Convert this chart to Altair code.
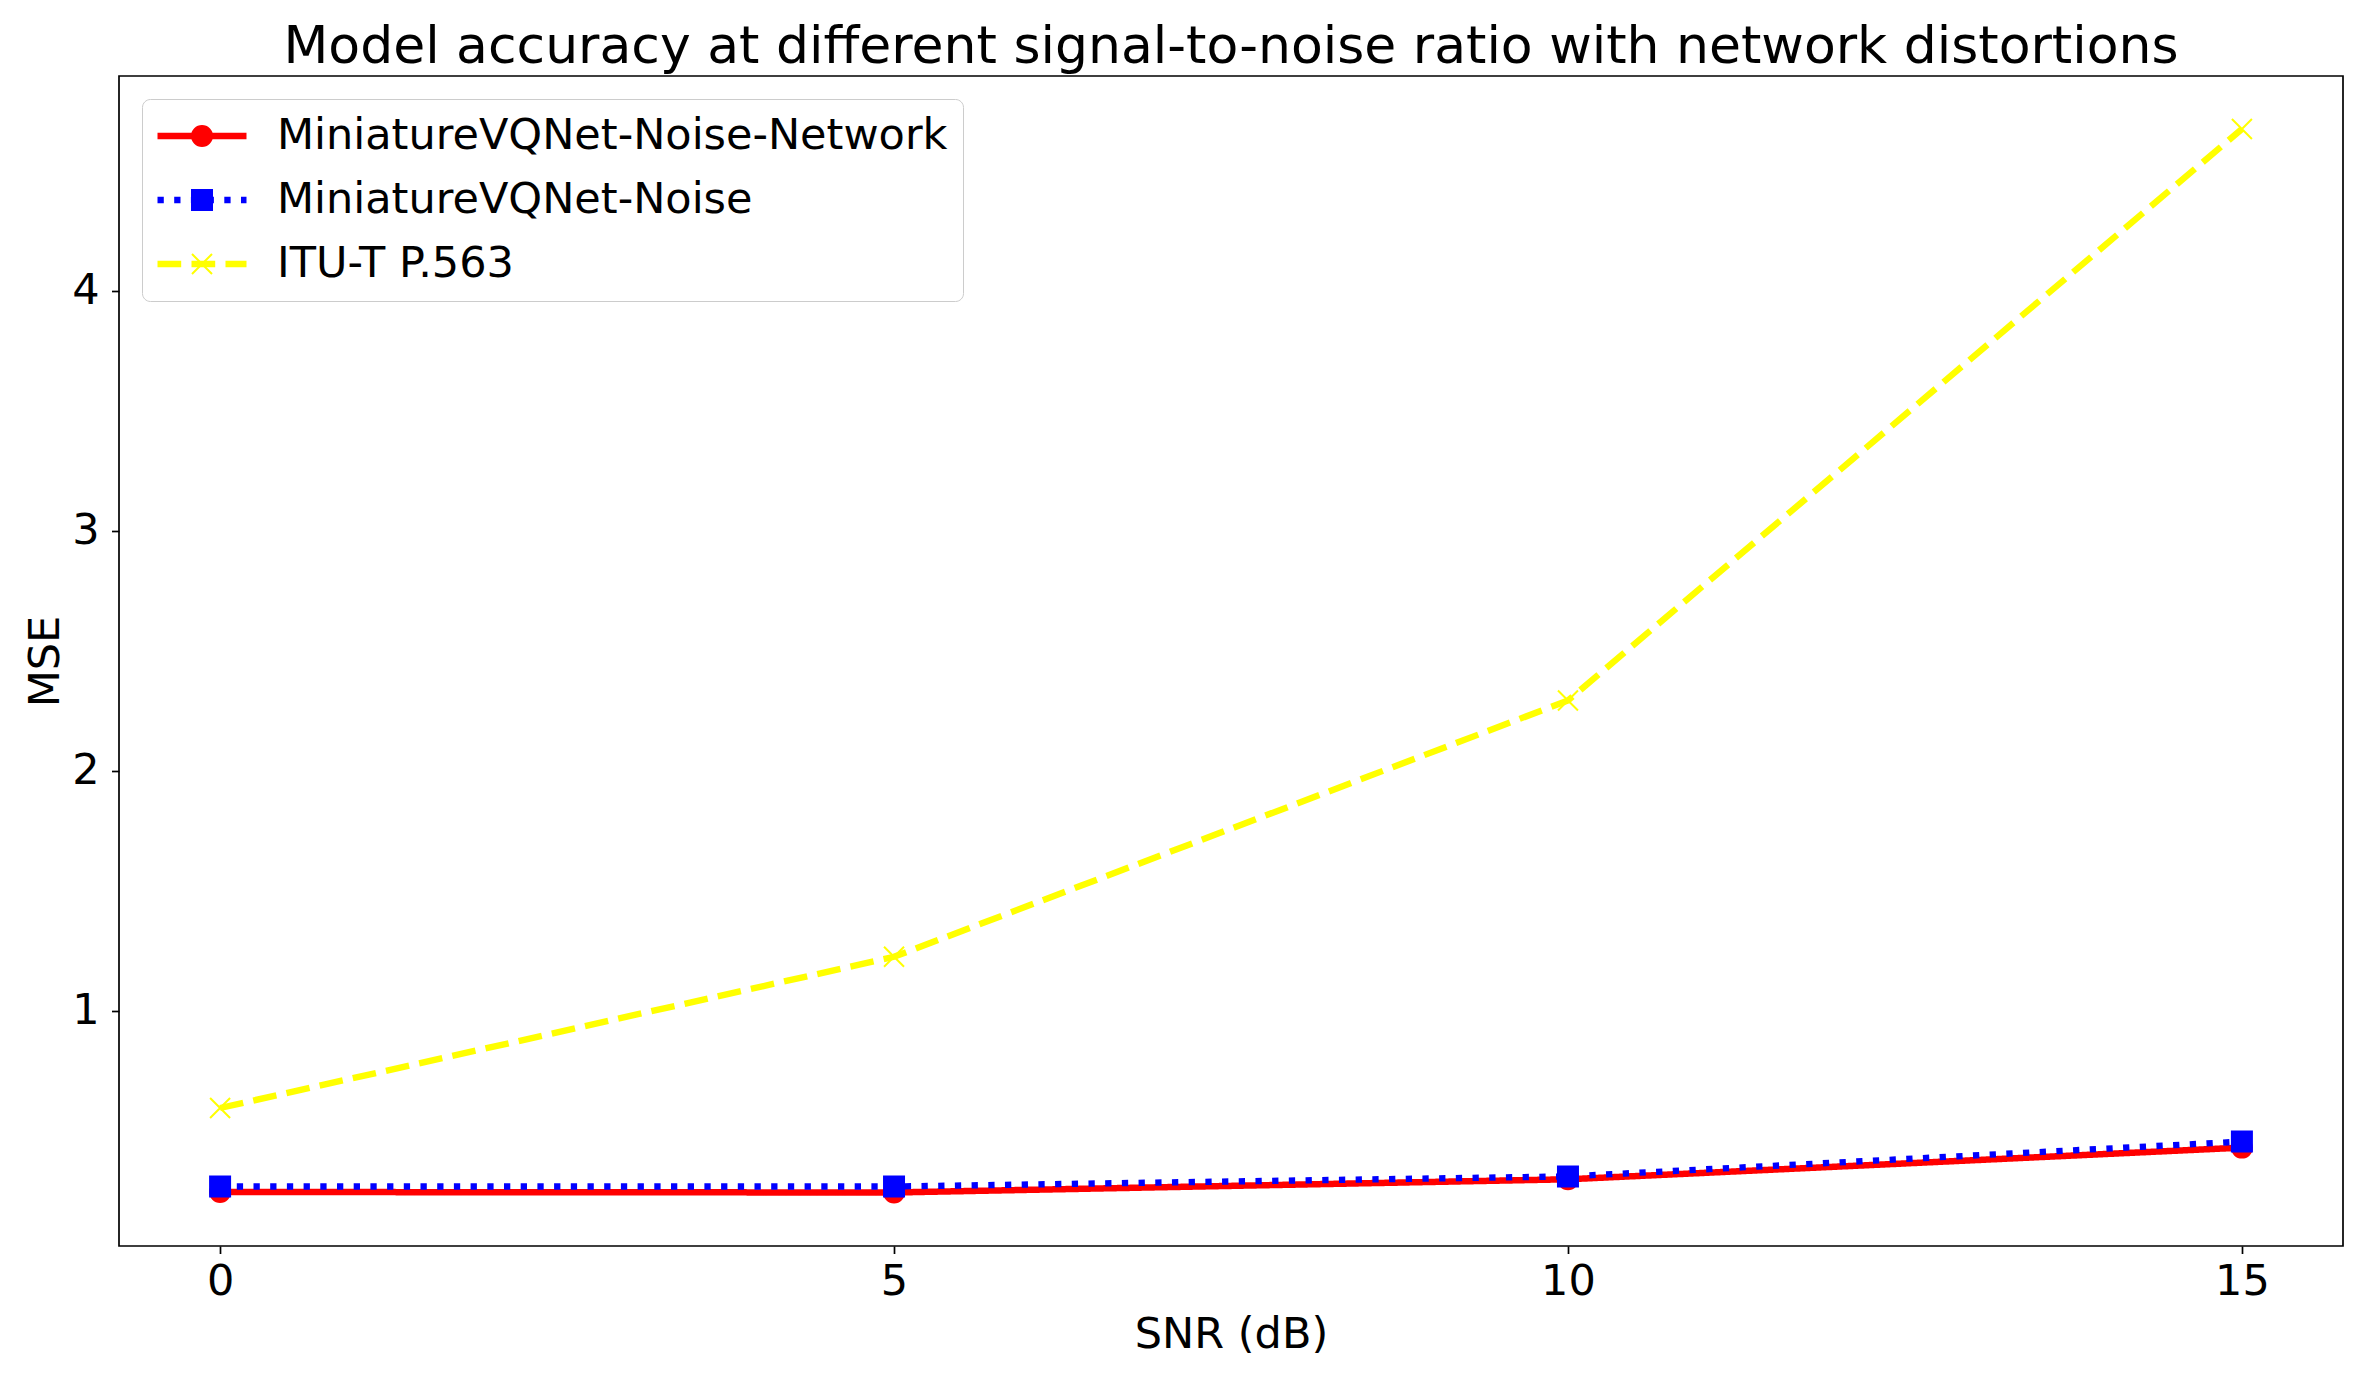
import altair as alt
import pandas as pd

# ---- data ----
snr = [0, 5, 10, 15]
series_names = ["MiniatureVQNet-Noise-Network", "MiniatureVQNet-Noise", "ITU-T P.563"]
mse_noise_network = [0.245, 0.243, 0.298, 0.430]
mse_noise = [0.268, 0.268, 0.310, 0.455]
mse_p563 = [0.595, 1.225, 2.293, 4.674]

x_ticks = [0, 5, 10, 15]
y_ticks = [1, 2, 3, 4]

# ---- styles ----
colors = ["#ff0000", "#0000ff", "#ffff00"]
line_widths = [6.5, 6.3, 6.4]
dashes = [[1, 0], [6.3, 10.4], [23.7, 10.3]]
X_PATH = "M-1,-1L1,1M-1,1L1,-1"
shapes = ["circle", "square", X_PATH]
FONT = "DejaVu Sans"

pt_names = ["pt " + n for n in series_names]
rows = []
for name, pname, vals in zip(series_names, pt_names, [mse_noise_network, mse_noise, mse_p563]):
    for xv, yv in zip(snr, vals):
        rows.append({"snr": xv, "mse": yv, "series": name, "series_pt": pname})
df = pd.DataFrame(rows)

x_enc = alt.X(
    "snr:Q",
    scale=alt.Scale(domain=[-0.75, 15.75], nice=False, zero=False),
    axis=alt.Axis(
        values=x_ticks, title="SNR (dB)", grid=False, domain=False,
        labelFont=FONT, labelFontSize=43, labelColor="black",
        labelBaseline="alphabetic", labelPadding=40.5, labelFlush=False, labelOverlap=False,
        tickSize=7.5, tickColor="black", tickWidth=1.7,
        titleFont=FONT, titleFontSize=43, titleFontWeight="normal", titleColor="black",
        titleBaseline="alphabetic", titleAlign="center", titleX=1112, titleY=101,
    ),
)
y_enc = alt.Y(
    "mse:Q",
    scale=alt.Scale(domain=[0.02, 4.895], nice=False, zero=False),
    axis=alt.Axis(
        values=y_ticks, title="MSE", grid=False, domain=False,
        labelFont=FONT, labelFontSize=43, labelColor="black",
        labelPadding=12.5, labelFlush=False, labelOverlap=False,
        tickSize=7.5, tickColor="black", tickWidth=1.7,
        titleFont=FONT, titleFontSize=43, titleFontWeight="normal", titleColor="black",
        titleAngle=270, titleAlign="center", titleBaseline="middle", titleX=-74, titleY=585,
    ),
)

line_legend = alt.Legend(
    title=None, orient="none", legendX=23, legendY=23,
    symbolType="stroke", symbolSize=7921, symbolOffset=-3,
    padding=15, clipHeight=44, rowPadding=20, labelOffset=27,
    labelFont=FONT, labelFontSize=43, labelColor="black", labelLimit=1200,
    fillColor="white", strokeColor="#cccccc", cornerRadius=8,
)
pt_legend = alt.Legend(
    title=None, orient="none", legendX=23, legendY=23,
    symbolSize=400, symbolStrokeWidth=2, symbolOffset=23.5,
    padding=15, clipHeight=44, rowPadding=20, labelOffset=27,
    labelFont=FONT, labelFontSize=43, labelExpr="''", labelLimit=1200,
)

lines = alt.Chart(df).mark_line().encode(
    x=x_enc,
    y=y_enc,
    color=alt.Color("series:N", scale=alt.Scale(domain=series_names, range=colors), legend=line_legend),
    strokeDash=alt.StrokeDash("series:N", scale=alt.Scale(domain=series_names, range=dashes), legend=line_legend),
    strokeWidth=alt.StrokeWidth(
        "series:N",
        scale=alt.Scale(type="ordinal", domain=series_names, range=line_widths),
        legend=line_legend,
    ),
    order="snr:Q",
)

points = alt.Chart(df).mark_point(size=400, strokeWidth=2, opacity=1, filled=False).encode(
    x=x_enc,
    y=y_enc,
    stroke=alt.Stroke("series_pt:N", scale=alt.Scale(domain=pt_names, range=colors), legend=pt_legend),
    fill=alt.Fill("series_pt:N", scale=alt.Scale(domain=pt_names, range=colors), legend=pt_legend),
    shape=alt.Shape("series_pt:N", scale=alt.Scale(domain=pt_names, range=shapes), legend=pt_legend),
)

chart = (
    alt.layer(lines, points)
    .properties(
        width=2224,
        height=1170,
        title=alt.TitleParams(
            "Model accuracy at different signal-to-noise ratio with network distortions",
            font=FONT, fontSize=52, fontWeight="normal", color="black",
            anchor="middle", baseline="alphabetic", offset=13, dy=52,
        ),
        autosize=alt.AutoSizeParams(type="none"),
        padding={"left": 111, "top": 68, "right": 12, "bottom": 119},
        background="white",
    )
    .configure_view(stroke="black", strokeWidth=1.7)
)

chart.save("out.html", embed_options={"renderer": "svg", "actions": False})
